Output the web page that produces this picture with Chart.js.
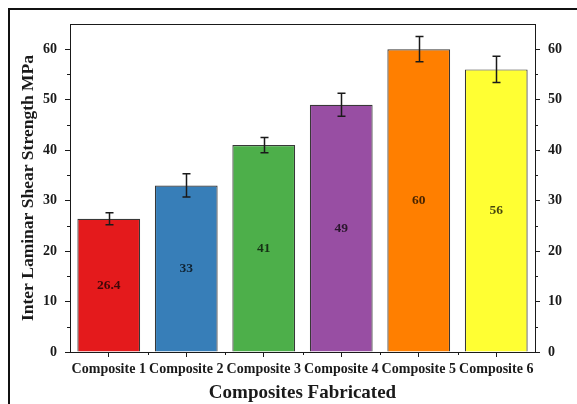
<!DOCTYPE html>
<html>
<head>
<meta charset="utf-8">
<script src="https://cdn.jsdelivr.net/npm/chart.js@4/dist/chart.umd.min.js"></script>
<style>
  html, body { margin: 0; padding: 0; background: #fff; }
  #wrap { position: relative; width: 577px; height: 404px; overflow: hidden; }
  #frame { position: absolute; left: 8px; top: 8px; width: 600px; height: 420px;
           border-top: 2px solid #111; border-left: 2px solid #111; pointer-events: none; }
  canvas { position: absolute; left: 0; top: 0; }
</style>
</head>
<body>
<div id="wrap">
  <canvas id="chart" width="577" height="404"></canvas>
  <div id="frame"></div>
</div>
<script>
// Inter-laminar shear strength of the fabricated composites
const categories = ['Composite 1', 'Composite 2', 'Composite 3', 'Composite 4', 'Composite 5', 'Composite 6'];
const strengthMPa = [26.4, 33, 41, 49, 60, 56];
const errorMPa = [1.2, 2.3, 1.5, 2.3, 2.5, 2.6];
const barColors = ['#e41a1c', '#377eb8', '#4daf4a', '#984ea3', '#ff7f00', '#ffff33'];
const yTickValues = [0, 10, 20, 30, 40, 50, 60];

const FONT = "'Liberation Serif', 'Times New Roman', serif";
const INK = '#1a1a1a';

// Half-step minor ticks on the value axes and category-boundary ticks on the x axis
const minorTicks = {
  id: 'minorTicks',
  afterDraw(chart) {
    const ctx = chart.ctx;
    ctx.save();
    ctx.strokeStyle = INK;
    ctx.lineWidth = 1;
    ['y', 'y2'].forEach(id => {
      const s = chart.scales[id];
      const dir = s.position === 'left' ? -1 : 1;
      const edge = s.position === 'left' ? s.right : s.left;
      for (let i = 0; i < yTickValues.length - 1; i++) {
        const v = (yTickValues[i] + yTickValues[i + 1]) / 2;
        const py = Math.round(s.getPixelForValue(v)) + 0.5;
        ctx.beginPath();
        ctx.moveTo(edge, py);
        ctx.lineTo(edge + dir * 3, py);
        ctx.stroke();
      }
    });
    const x = chart.scales.x;
    for (let i = 0; i < categories.length - 1; i++) {
      const px = Math.round(x.getPixelForValue(i + 0.5)) + 0.5;
      ctx.beginPath();
      ctx.moveTo(px, x.top);
      ctx.lineTo(px, x.top + 3);
      ctx.stroke();
    }
    // top frame line of the plot area
    const a = chart.chartArea;
    ctx.beginPath();
    ctx.moveTo(a.left, Math.round(a.top) + 0.5);
    ctx.lineTo(a.right, Math.round(a.top) + 0.5);
    ctx.stroke();
    ctx.restore();
  }
};

// Error bars (mean ± deviation) on each bar
const errorBars = {
  id: 'errorBars',
  afterDatasetsDraw(chart) {
    const ctx = chart.ctx;
    const y = chart.scales.y;
    const meta = chart.getDatasetMeta(0);
    ctx.save();
    ctx.strokeStyle = INK;
    ctx.lineWidth = 1.5;
    meta.data.forEach((bar, i) => {
      const v = strengthMPa[i], e = errorMPa[i];
      const top = y.getPixelForValue(v + e);
      const bot = y.getPixelForValue(v - e);
      const cx = Math.round(bar.x) + 0.5;
      ctx.beginPath();
      ctx.moveTo(cx, top); ctx.lineTo(cx, bot);
      ctx.moveTo(cx - 4, top); ctx.lineTo(cx + 4, top);
      ctx.moveTo(cx - 4, bot); ctx.lineTo(cx + 4, bot);
      ctx.stroke();
    });
    ctx.restore();
  }
};

// Value labels placed at mid-height of each bar
const barLabels = {
  id: 'barLabels',
  afterDatasetsDraw(chart) {
    const ctx = chart.ctx;
    const y = chart.scales.y;
    const meta = chart.getDatasetMeta(0);
    ctx.save();
    ctx.font = 'bold 13.5px ' + FONT;
    ctx.fillStyle = 'rgba(0,0,0,0.72)';
    ctx.textAlign = 'center';
    ctx.textBaseline = 'middle';
    meta.data.forEach((bar, i) => {
      ctx.fillText(String(strengthMPa[i]), bar.x, y.getPixelForValue(strengthMPa[i] / 2));
    });
    ctx.restore();
  }
};

const keepTens = s => { s.ticks = s.ticks.filter(t => yTickValues.includes(t.value)); };

new Chart(document.getElementById('chart'), {
  type: 'bar',
  data: {
    labels: categories,
    datasets: [{
      data: strengthMPa,
      backgroundColor: barColors,
      borderColor: 'rgba(0,0,0,0.78)',
      borderWidth: 1.2,
      barPercentage: 0.81,
      categoryPercentage: 1
    }]
  },
  options: {
    responsive: false,
    animation: false,
    devicePixelRatio: 1,
    layout: { padding: { top: 24, left: 0, right: 0, bottom: 0 } },
    plugins: { legend: { display: false }, tooltip: { enabled: false } },
    scales: {
      x: {
        type: 'category',
        position: 'bottom',
        offset: true,
        grid: { offset: false, drawOnChartArea: false, drawTicks: true, tickLength: 5, color: INK, lineWidth: 1 },
        border: { display: true, color: INK, width: 1 },
        ticks: { autoSkip: false, maxRotation: 0, minRotation: 0, padding: 4, color: INK,
                 font: { family: FONT, size: 14, weight: 'bold' } },
        title: { display: true, text: 'Composites Fabricated', color: INK,
                 font: { family: FONT, size: 19, weight: 'bold' }, padding: { top: 0, bottom: 0 } },
        afterFit: s => { s.height = 52; }
      },
      y: {
        position: 'left',
        min: 0, max: 65,
        grid: { drawOnChartArea: false, drawTicks: true, tickLength: 5, color: INK, lineWidth: 1 },
        border: { display: true, color: INK, width: 1 },
        ticks: { stepSize: 10, padding: 8, color: INK, font: { family: FONT, size: 14, weight: 'bold' } },
        afterBuildTicks: keepTens,
        title: { display: true, text: 'Inter Laminar Shear Strength MPa', color: INK,
                 font: { family: FONT, size: 17.5, weight: 'bold' }, padding: { top: 18, bottom: 0 } },
        afterFit: s => { s.width = 70; }
      },
      y2: {
        position: 'right',
        min: 0, max: 65,
        grid: { drawOnChartArea: false, drawTicks: true, tickLength: 5, color: INK, lineWidth: 1 },
        border: { display: true, color: INK, width: 1 },
        ticks: { stepSize: 10, padding: 8, color: INK, font: { family: FONT, size: 14, weight: 'bold' } },
        afterBuildTicks: keepTens,
        afterFit: s => { s.width = 42; }
      }
    }
  },
  plugins: [minorTicks, errorBars, barLabels]
});
</script>
</body>
</html>
